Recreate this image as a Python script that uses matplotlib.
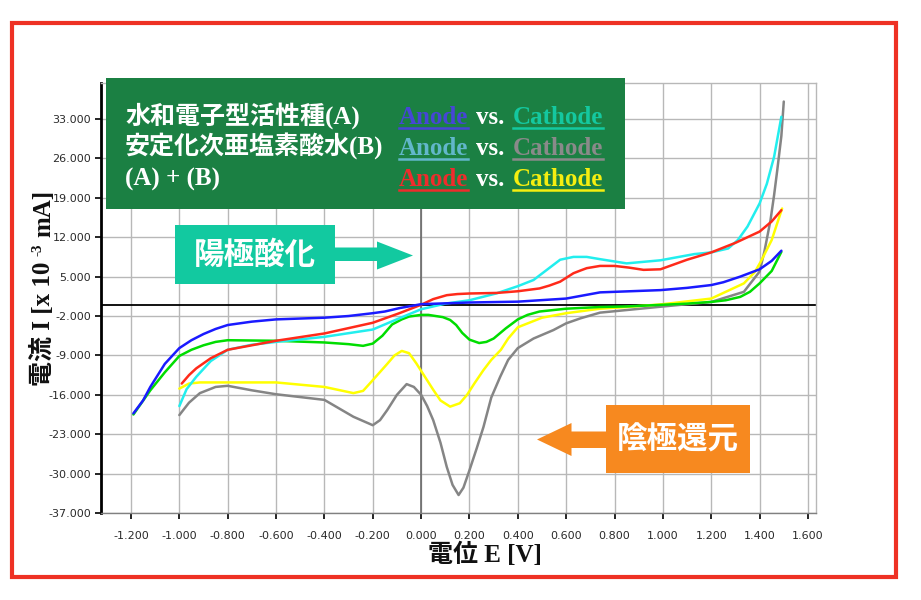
import matplotlib
matplotlib.use('Agg')
import matplotlib.pyplot as plt
from matplotlib.patches import Rectangle, Polygon
from matplotlib.lines import Line2D
from matplotlib.ticker import FormatStrFormatter

W, H = 921, 600

# ---------------- data ----------------
x_ticks = [-1.2, -1.0, -0.8, -0.6, -0.4, -0.2, 0.0, 0.2, 0.4, 0.6, 0.8, 1.0, 1.2, 1.4, 1.6]
y_ticks = [-37, -30, -23, -16, -9, -2, 5, 12, 19, 26, 33]

# (A) Anode  - blue
a_anode_E = [-1.19, -1.15, -1.12, -1.06, -1.0, -0.95, -0.9, -0.85, -0.8, -0.7, -0.6, -0.5,
             -0.4, -0.3, -0.2, -0.15, -0.09, 0.0, 0.2, 0.4, 0.6, 0.74, 0.99, 1.1,
             1.2, 1.25, 1.32, 1.40, 1.45, 1.49]
a_anode_I = [-19.3, -17.0, -14.6, -10.5, -7.7, -6.3, -5.2, -4.3, -3.6, -3.0, -2.6, -2.45,
             -2.3, -2.0, -1.5, -1.2, -0.6, 0.1, 0.4, 0.55, 1.1, 2.2, 2.6, 3.0,
             3.5, 4.0, 5.0, 6.3, 7.8, 9.6]

# (A) Cathode - green
a_cath_E = [-1.19, -1.12, -1.06, -1.0, -0.95, -0.9, -0.85, -0.8, -0.6, -0.4, -0.3, -0.24,
            -0.2, -0.16, -0.12, -0.08, -0.05, 0.0, 0.03, 0.06, 0.09, 0.12, 0.145, 0.17,
            0.2, 0.24, 0.27, 0.30, 0.35, 0.4, 0.44, 0.49, 0.6, 0.74, 0.85, 1.0,
            1.1, 1.2, 1.26, 1.32, 1.36, 1.40, 1.45, 1.49]
a_cath_I = [-19.5, -15.2, -12.0, -9.1, -8.0, -7.2, -6.6, -6.3, -6.4, -6.7, -7.0, -7.3,
            -6.9, -5.5, -3.5, -2.6, -2.1, -1.8, -1.8, -2.0, -2.2, -2.7, -3.6, -5.0,
            -6.2, -6.8, -6.6, -6.0, -4.2, -2.6, -1.8, -1.2, -0.7, -0.4, -0.3, 0.0,
            0.2, 0.5, 0.8, 1.4, 2.3, 3.8, 6.0, 9.4]

# (B) Anode - cyan
b_anode_E = [-1.0, -0.97, -0.93, -0.87, -0.8, -0.7, -0.6, -0.4, -0.2, -0.09, 0.0, 0.1,
             0.2, 0.31, 0.4, 0.465, 0.52, 0.575, 0.63, 0.685, 0.74, 0.85, 0.99, 1.13,
             1.2, 1.27, 1.31, 1.35, 1.40, 1.43, 1.46, 1.49]
b_anode_I = [-18.0, -15.0, -12.8, -10.0, -8.0, -7.1, -6.6, -5.7, -4.4, -2.4, -0.8, 0.2,
             0.8, 2.0, 3.3, 4.4, 6.2, 8.0, 8.5, 8.5, 8.1, 7.35, 7.9, 9.0,
             9.3, 10.0, 11.5, 13.9, 18.0, 21.5, 26.3, 33.4]

# (B) Cathode - gray
b_cath_E = [-1.0, -0.96, -0.915, -0.85, -0.8, -0.7, -0.6, -0.4, -0.28, -0.2, -0.17, -0.14,
            -0.1, -0.06, -0.03, 0.0, 0.025, 0.05, 0.08, 0.106, 0.13, 0.155, 0.175, 0.2,
            0.23, 0.258, 0.29, 0.327, 0.36, 0.4, 0.465, 0.547, 0.6, 0.66, 0.74, 0.99,
            1.2, 1.335, 1.40, 1.42, 1.445, 1.46, 1.473, 1.49, 1.5]
b_cath_I = [-19.6, -17.4, -15.7, -14.6, -14.4, -15.2, -15.9, -16.9, -19.9, -21.4, -20.5, -18.7,
            -16.0, -14.1, -14.6, -16.0, -18.0, -20.5, -24.5, -28.8, -32.0, -33.8, -32.5, -29.4,
            -25.5, -21.7, -16.5, -12.8, -9.8, -7.7, -6.0, -4.5, -3.3, -2.4, -1.4, -0.35,
            0.5, 2.3, 5.9, 9.5, 15.0, 19.5, 23.9, 30.0, 36.1]

# (A)+(B) Anode - red
ab_anode_E = [-0.99, -0.96, -0.93, -0.87, -0.8, -0.7, -0.6, -0.4, -0.2, -0.09, 0.0, 0.05,
              0.106, 0.15, 0.2, 0.313, 0.4, 0.49, 0.53, 0.575, 0.63, 0.66, 0.685, 0.74,
              0.8, 0.86, 0.92, 0.99, 1.1, 1.2, 1.3, 1.4, 1.45, 1.49]
ab_anode_I = [-14.0, -12.5, -11.3, -9.5, -8.0, -7.2, -6.4, -5.1, -3.2, -1.5, 0.0, 1.0,
              1.7, 1.9, 2.0, 2.1, 2.4, 2.9, 3.4, 4.1, 5.6, 6.1, 6.5, 6.9,
              6.9, 6.6, 6.2, 6.3, 8.0, 9.3, 11.0, 13.0, 14.8, 16.8]

# (A)+(B) Cathode - yellow
ab_cath_E = [-1.0, -0.96, -0.915, -0.8, -0.6, -0.4, -0.28, -0.24, -0.2, -0.14, -0.11, -0.08,
             -0.05, -0.02, 0.05, 0.08, 0.12, 0.16, 0.19, 0.22, 0.258, 0.29, 0.33, 0.36,
             0.4, 0.5, 0.6, 0.74, 0.85, 1.0, 1.2, 1.335, 1.38, 1.404, 1.45, 1.493]
ab_cath_I = [-14.9, -14.0, -13.8, -13.8, -13.8, -14.6, -15.7, -15.3, -13.4, -10.5, -9.0, -8.2,
             -8.6, -10.4, -15.1, -17.0, -18.1, -17.5, -16.0, -14.0, -11.6, -9.8, -8.0, -6.0,
             -4.0, -2.3, -1.5, -0.7, -0.4, 0.1, 1.1, 3.8, 5.8, 7.6, 11.5, 17.1]

series = [
    (b_cath_E, b_cath_I, '#858585'),
    (ab_cath_E, ab_cath_I, '#ffff00'),
    (a_cath_E, a_cath_I, '#00dd00'),
    (b_anode_E, b_anode_I, '#22eeee'),
    (ab_anode_E, ab_anode_I, '#ff2a1a'),
    (a_anode_E, a_anode_I, '#1a1aff'),
]

legend_rows = [
    ('水和電子型活性種(A)', '#4646d6', '#14c8a0'),
    ('安定化次亜塩素酸水(B)', '#62b7cb', '#8a8a8a'),
    ('(A) + (B)', '#f02c2c', '#f5ee10'),
]

# ---------------- figure ----------------
plt.rcParams['axes.unicode_minus'] = False
FAM = ['Liberation Serif', 'Noto Sans CJK JP', 'DejaVu Sans']
CJK = ['Noto Sans CJK JP', 'DejaVu Sans']

fig = plt.figure(figsize=(W / 100, H / 100), dpi=100)
fig.patch.set_facecolor('white')


def fx(x):
    return x / W


def fy(y):
    return 1 - y / H


ax_l, ax_r, ax_t, ax_b = 101, 815.7, 82.7, 513.3
ax = fig.add_axes([fx(ax_l), fy(ax_b), (ax_r - ax_l) / W, (ax_b - ax_t) / H])
ax.set_xlim(-1.324, 1.632)
ax.set_ylim(-37.05, 39.45)
ax.set_xticks(x_ticks)
ax.set_yticks(y_ticks)
ax.xaxis.set_major_formatter(FormatStrFormatter('%.3f'))
ax.yaxis.set_major_formatter(FormatStrFormatter('%.3f'))
ax.tick_params(axis='both', direction='out', length=4, width=1.2, color='black',
               labelsize=8, labelcolor='#2a2a2a')
ax.tick_params(axis='x', pad=9)
ax.tick_params(axis='y', pad=3)
ax.grid(True, color='#b8b8b8', linewidth=1.0)
ax.set_axisbelow(True)
ax.axhline(0, color='black', linewidth=1.3, zorder=1.5)
ax.axvline(0, color='#606060', linewidth=1.1, zorder=1.5)
ax.spines['left'].set_color('black')
ax.spines['left'].set_linewidth(2.0)
ax.spines['bottom'].set_color('#808080')
ax.spines['bottom'].set_linewidth(1.0)
for s in ('top', 'right'):
    ax.spines[s].set_color('#b8b8b8')
    ax.spines[s].set_linewidth(1.0)

for E, I, c in series:
    ax.plot(E, I, color=c, linewidth=1.8, zorder=3, solid_capstyle='round',
            solid_joinstyle='round')

# red outer frame
fig.patches.append(Rectangle((fx(11.5), fy(577)), (896 - 11.5) / W, (577 - 23) / H,
                             transform=fig.transFigure, fill=False,
                             edgecolor='#ee3124', linewidth=3.0, zorder=10))

# green legend box
fig.patches.append(Rectangle((fx(106), fy(209)), (625 - 106) / W, (209 - 77.5) / H,
                             transform=fig.transFigure, facecolor='#1b8043',
                             edgecolor='none', zorder=5))

# arrow 1 (teal, pointing right)
pts1 = [(175, 225), (335, 225), (335, 247.5), (377, 247.5), (377, 241.5), (413, 255.5),
        (377, 269.5), (377, 261), (335, 261), (335, 284), (175, 284)]
fig.patches.append(Polygon([(fx(x), fy(y)) for x, y in pts1], closed=True,
                           transform=fig.transFigure, facecolor='#12c9a0',
                           edgecolor='none', zorder=5))
fig.text(fx(255), fy(255), '陽極酸化', family=CJK, fontweight='bold', fontsize=22,
         color='white', ha='center', va='center', zorder=6)

# arrow 2 (orange, pointing left)
pts2 = [(750, 405), (606, 405), (606, 431.5), (571.5, 431.5), (571.5, 423), (537, 439.5),
        (571.5, 456), (571.5, 448), (606, 448), (606, 473), (750, 473)]
fig.patches.append(Polygon([(fx(x), fy(y)) for x, y in pts2], closed=True,
                           transform=fig.transFigure, facecolor='#f7891f',
                           edgecolor='none', zorder=5))
fig.text(fx(678), fy(440), '陰極還元', family=CJK, fontweight='bold', fontsize=22,
         color='white', ha='center', va='center', zorder=6)

# legend text
baselines = [124, 155, 186]
underlines = []
for (label, c_an, c_ca), yb in zip(legend_rows, baselines):
    fig.text(fx(125), fy(yb), label, family=FAM, fontweight='bold', fontsize=18,
             color='white', ha='left', va='baseline', zorder=6)
    t_an = fig.text(fx(399), fy(yb), 'Anode', family='Liberation Serif', fontweight='bold',
                    fontsize=18, color=c_an, ha='left', va='baseline', zorder=6)
    fig.text(fx(476), fy(yb), 'vs.', family='Liberation Serif', fontweight='bold',
             fontsize=18, color='white', ha='left', va='baseline', zorder=6)
    t_ca = fig.text(fx(513), fy(yb), 'Cathode', family='Liberation Serif', fontweight='bold',
                    fontsize=18, color=c_ca, ha='left', va='baseline', zorder=6)
    underlines.append((t_an, c_an, yb))
    underlines.append((t_ca, c_ca, yb))

# x label
fig.text(fx(485), fy(562), '電位 E [V]', family=FAM, fontweight='bold', fontsize=18,
         color='#111111', ha='center', va='baseline')

# y label in runs (rotated)
y_runs = [('電流 I [x 10', 18, 50, 0), ('-3', 11, 41, 6), ('mA]', 18, 50, 6)]
fig.canvas.draw()
renderer = fig.canvas.get_renderer()
y_cur = 386.0
for txt, fs, xb, gap in y_runs:
    y_cur -= gap
    t = fig.text(fx(xb), fy(y_cur), txt, family=FAM, fontweight='bold', fontsize=fs,
                 color='#111111', rotation=90, rotation_mode='anchor',
                 ha='left', va='baseline')
    bb = t.get_window_extent(renderer=renderer)
    y_cur -= bb.height

for t, c, yb in underlines:
    bb = t.get_window_extent(renderer=renderer)
    yy = fy(yb + 3.5)
    fig.lines.append(Line2D([bb.x0 / W, bb.x1 / W], [yy, yy], transform=fig.transFigure,
                            color=c, linewidth=1.8, zorder=6))

fig.savefig('out.png', dpi=100, facecolor='white')
